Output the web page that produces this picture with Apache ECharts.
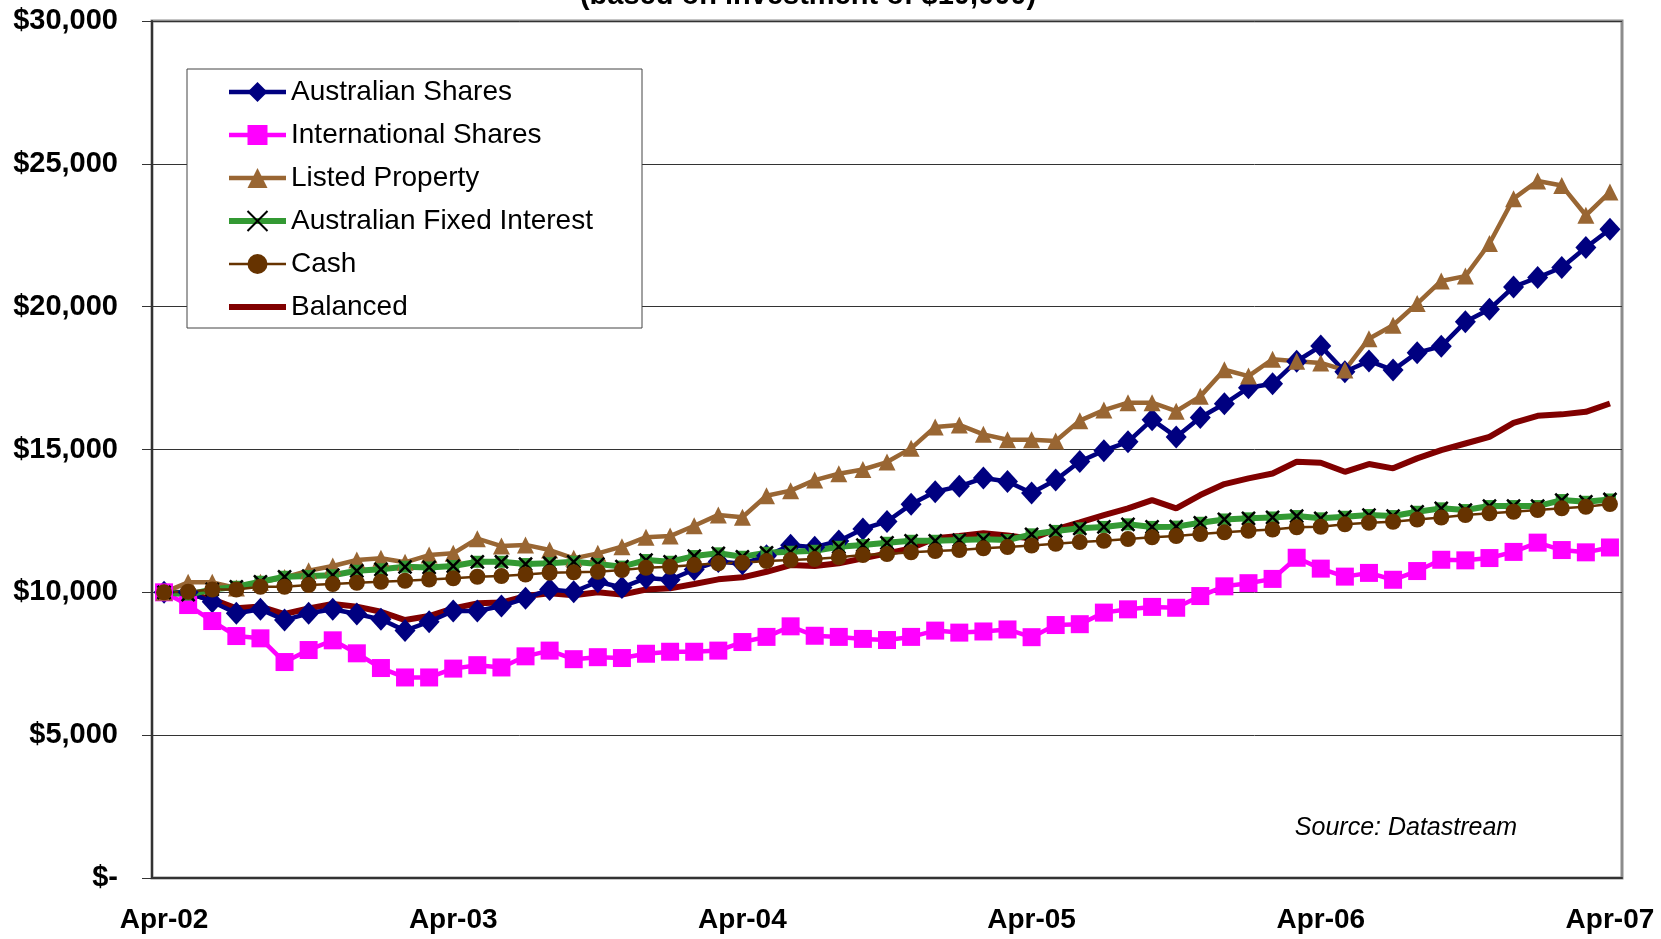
<!DOCTYPE html>
<html>
<head>
<meta charset="utf-8">
<script src="https://cdn.jsdelivr.net/npm/echarts@6/dist/echarts.min.js"></script>
<style>
html, body { margin: 0; padding: 0; background: #fff; }
#main { width: 1661px; height: 939px; }
</style>
</head>
<body>
<div id="main"></div>
<script>
// year labels shown on the x axis (one category per month, Apr-02 .. Apr-07)
var yearLabels = ['Apr-02', 'Apr-03', 'Apr-04', 'Apr-05', 'Apr-06', 'Apr-07'];
var monthNames = ['Apr', 'May', 'Jun', 'Jul', 'Aug', 'Sep', 'Oct', 'Nov', 'Dec', 'Jan', 'Feb', 'Mar'];
var months = [];
for (var y = 0; y < yearLabels.length; y++) {
    var yr = 2 + y;
    for (var m = 0; m < 12; m++) {
        if (y === yearLabels.length - 1 && m > 0) break;
        var yy = m < 9 ? yr : yr + 1;
        months.push(monthNames[m] + '-' + (yy < 10 ? '0' + yy : '' + yy));
    }
}

var ausShares = [10000, 10000, 9670, 9265, 9405, 9030, 9265, 9405, 9240, 9055, 8660, 8970, 9345, 9345, 9520, 9790,
    10100, 10020, 10370, 10170, 10500, 10440, 10800, 11080, 11000, 11280, 11650, 11580, 11800, 12220, 12480, 13080,
    13520, 13710, 14000, 13880, 13480, 13930, 14580, 14960, 15270, 16045, 15440, 16120, 16600, 17160, 17300, 18090,
    18620, 17720, 18100, 17780, 18390, 18610, 19470, 19910, 20690, 21020, 21370, 22070, 22710];
var intShares = [10000, 9555, 8995, 8470, 8390, 7560, 7980, 8320, 7865, 7350, 7020, 7020, 7330, 7450, 7370, 7760,
    7960, 7660, 7730, 7700, 7850, 7920, 7920, 7960, 8260, 8440, 8810, 8480, 8440, 8370, 8330, 8440,
    8660, 8590, 8630, 8700, 8430, 8855, 8885, 9290, 9405, 9490, 9460, 9870, 10210, 10320, 10470, 11210,
    10830, 10550, 10680, 10440, 10745, 11140, 11120, 11200, 11415, 11740, 11480, 11400, 11570];
var listedProperty = [10000, 10350, 10350, 10150, 10350, 10520, 10755, 10920, 11130, 11190, 11050, 11305, 11365, 11880, 11620, 11660,
    11480, 11190, 11365, 11600, 11930, 11970, 12330, 12710, 12630, 13380, 13560, 13930, 14150, 14300, 14560, 15040,
    15790, 15860, 15530, 15340, 15340, 15300, 16010, 16380, 16640, 16640, 16340, 16860, 17790, 17570, 18160, 18090,
    18030, 17780, 18880, 19350, 20110, 20900, 21070, 22210, 23780, 24400, 24240, 23200, 24010];
var fixedInterest = [10000, 9920, 10100, 10195, 10370, 10545, 10570, 10600, 10755, 10805, 10895, 10870, 10920, 11070, 11070, 10990,
    11020, 11070, 10990, 10900, 11130, 11070, 11270, 11365, 11245, 11385, 11420, 11455, 11595, 11655, 11735, 11805,
    11805, 11830, 11855, 11830, 12030, 12150, 12240, 12290, 12380, 12290, 12300, 12435, 12550, 12590, 12620, 12670,
    12590, 12645, 12705, 12670, 12820, 12940, 12880, 13020, 13020, 13020, 13230, 13170, 13250];
var cash = [10000, 10020, 10100, 10100, 10195, 10195, 10255, 10290, 10335, 10370, 10405, 10450, 10490, 10545, 10570, 10625,
    10685, 10700, 10720, 10780, 10860, 10895, 10955, 11015, 11035, 11095, 11130, 11165, 11225, 11305, 11340, 11400,
    11445, 11480, 11540, 11585, 11640, 11700, 11760, 11805, 11865, 11925, 11970, 12040, 12100, 12155, 12200, 12275,
    12295, 12380, 12435, 12470, 12550, 12620, 12705, 12765, 12820, 12880, 12940, 12995, 13090];
var balanced = [10000, 9965, 9755, 9440, 9500, 9240, 9440, 9590, 9500, 9320, 9030, 9170, 9440, 9615, 9640, 9870,
    9965, 9900, 10000, 9920, 10100, 10140, 10290, 10455, 10525, 10720, 10955, 10920, 11015, 11190, 11365, 11540,
    11890, 11970, 12065, 11990, 11880, 12200, 12450, 12705, 12940, 13230, 12940, 13405, 13790, 13990, 14160, 14570,
    14535, 14220, 14490, 14340, 14690, 14980, 15210, 15440, 15930, 16180, 16230, 16320, 16610];

var legendNames = ['Australian Shares', 'International Shares', 'Listed Property',
    'Australian Fixed Interest', 'Cash', 'Balanced'];

var font = '"Liberation Sans", Arial, sans-serif';

function money(v) {
    if (v === 0) return '$-';
    return '$' + String(v).replace(/\B(?=(\d{3})+(?!\d))/g, ',');
}

function mkSeries(name, data, color, width, symbol, size, itemStyle) {
    return {
        name: name,
        type: 'line',
        data: data,
        symbol: symbol,
        symbolSize: size,
        showSymbol: symbol !== 'none',
        showAllSymbol: true,
        lineStyle: { color: color, width: width },
        itemStyle: itemStyle || { color: color, borderWidth: 0 },
        emphasis: { disabled: true },
        animation: false
    };
}

// green block drawn under the black "x" markers of the fixed interest line
var fixedBack = mkSeries('fixedBack', fixedInterest, '#339933', 0, 'rect', 12);
fixedBack.lineStyle.opacity = 0;
fixedBack.silent = true;

var chart = echarts.init(document.getElementById('main'), null, { renderer: 'canvas' });

var option = {
    animation: false,
    backgroundColor: '#fff',
    textStyle: { fontFamily: font },
    grid: {
        left: 152, right: 39, top: 21, bottom: 61,
        show: true, borderColor: '#8c8c8c', borderWidth: 3
    },
    xAxis: {
        type: 'category',
        data: months,
        boundaryGap: true,
        axisLine: { lineStyle: { color: '#333', width: 2 } },
        axisTick: { interval: 11, length: 8, lineStyle: { color: '#333', width: 1 } },
        axisLabel: {
            interval: 11, margin: 28, color: '#000',
            fontSize: 28, fontWeight: 'bold', fontFamily: font
        },
        splitLine: { show: false }
    },
    yAxis: {
        type: 'value',
        min: 0, max: 30000, interval: 5000,
        axisLine: { show: true, lineStyle: { color: '#333', width: 2 } },
        axisTick: { show: true, length: 10, lineStyle: { color: '#333', width: 1 } },
        axisLabel: {
            margin: 34, color: '#000', fontSize: 29, fontWeight: 'bold',
            fontFamily: font, formatter: money
        },
        splitLine: { lineStyle: { color: '#333', width: 1 } }
    },
    legend: {
        data: legendNames.map(function (n) {
            if (n === 'Balanced') return { name: n, icon: 'path://M0,0L57,0L57,6L0,6Z' };
            return n;
        }),
        orient: 'vertical',
        left: 226, top: 78,
        padding: 0,
        itemWidth: 57, itemHeight: 25, itemGap: 15,
        selectedMode: false,
        z: 6,
        lineStyle: { width: 'inherit' },
        textStyle: { fontSize: 28, lineHeight: 28, color: '#000', fontFamily: font }
    },
    graphic: [
        {
            type: 'rect', z: 4,
            shape: { x: 187, y: 69, width: 455, height: 259 },
            style: { fill: '#fff', stroke: '#444', lineWidth: 1 }
        },
        {
            type: 'text', x: 808, y: 10, z: 4,
            style: {
                text: '(based on investment of $10,000)',
                font: 'bold 29px ' + font, fill: '#000',
                align: 'center', verticalAlign: 'bottom'
            }
        },
        {
            type: 'text', x: 1406, y: 828, z: 4,
            style: {
                text: 'Source: Datastream',
                font: 'italic 25px ' + font, fill: '#000',
                align: 'center', verticalAlign: 'middle'
            }
        }
    ],
    series: [
        mkSeries('Balanced', balanced, '#800000', 6, 'none', 0),
        mkSeries('Australian Shares', ausShares, '#000080', 4.5, 'diamond', [21, 23]),
        mkSeries('International Shares', intShares, '#ff00ff', 4.5, 'rect', 18),
        mkSeries('Listed Property', listedProperty, '#996633', 4.5, 'triangle', 17),
        fixedBack,
        mkSeries('Australian Fixed Interest', fixedInterest, '#339933', 6, 'path://M0,0L10,10M10,0L0,10', 13,
            { color: '#339933', borderColor: '#000', borderWidth: 2.5 }),
        mkSeries('Cash', cash, '#663300', 2.5, 'circle', 16)
    ]
};

chart.setOption(option);
</script>
</body>
</html>
